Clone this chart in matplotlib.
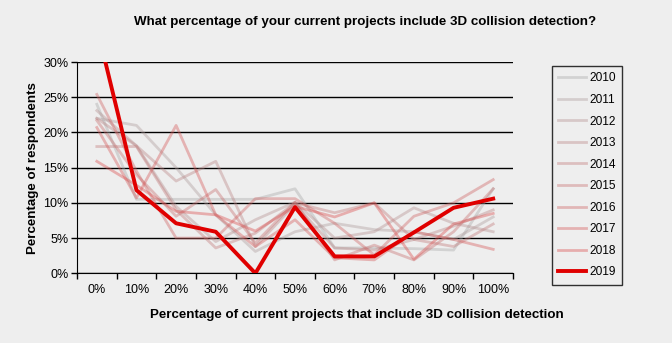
import matplotlib
matplotlib.use('Agg')
import matplotlib.pyplot as plt
from matplotlib.ticker import FixedLocator, NullFormatter

plt.rcParams['font.family'] = ['Liberation Sans', 'DejaVu Sans']

categories = ['0%', '10%', '20%', '30%', '40%', '50%', '60%', '70%', '80%', '90%', '100%']
years = ['2010', '2011', '2012', '2013', '2014', '2015', '2016', '2017', '2018', '2019']

# percent of respondents
values = {
    '2010': [24.0, 10.5, 10.5, 10.5, 10.5, 12.0, 3.6, 3.6, 3.5, 3.3, 12.0],
    '2011': [22.0, 21.0, 15.0, 8.3, 3.1, 5.9, 7.1, 6.2, 5.9, 4.8, 8.0],
    '2012': [23.1, 18.1, 9.5, 4.5, 7.6, 10.1, 5.0, 5.9, 9.3, 7.1, 5.9],
    '2013': [22.0, 18.1, 13.1, 15.9, 3.8, 9.8, 3.6, 3.3, 4.8, 6.7, 9.0],
    '2014': [18.0, 18.0, 9.0, 3.6, 5.7, 10.0, 8.6, 10.0, 4.8, 3.8, 7.0],
    '2015': [21.7, 14.0, 8.1, 11.9, 4.3, 10.1, 1.9, 4.0, 1.9, 5.9, 12.0],
    '2016': [25.4, 14.5, 5.0, 5.0, 10.6, 10.6, 7.1, 2.6, 8.1, 10.0, 13.3],
    '2017': [20.7, 10.7, 21.0, 8.3, 3.8, 7.6, 2.2, 1.9, 5.9, 4.8, 3.4],
    '2018': [15.9, 12.5, 8.8, 8.3, 6.0, 9.5, 8.0, 10.0, 2.0, 7.0, 8.5],
    '2019': [35.0, 11.8, 7.1, 5.9, 0.0, 9.4, 2.4, 2.4, 5.8, 9.3, 10.6],
}

bg = '#eeeeee'
fig = plt.figure(figsize=(6.72, 3.43), dpi=100, facecolor=bg)
ax = fig.add_axes([0.1146, 0.2032, 0.6488, 0.616], facecolor=bg)

x = list(range(len(categories)))
n_old = len(years) - 1
for i, yr in enumerate(years[:-1]):
    t = i / (n_old - 1)
    r = 0.66 + t * (0.86 - 0.66)
    g = 0.66 - t * (0.66 - 0.30)
    b = 0.66 - t * (0.66 - 0.30)
    ax.plot(x, values[yr], color=(r, g, b, 0.4), lw=2.0, label=yr, zorder=2)
ax.plot(x, values['2019'], color='#e00000', lw=2.8, label='2019', zorder=3)

ax.set_xlim(-0.5, len(categories) - 0.5)
ax.set_ylim(0, 30)
ax.set_yticks(range(0, 31, 5))
ax.set_yticklabels([f'{v}%' for v in range(0, 31, 5)], fontsize=9)
ax.set_xticks(x)
ax.set_xticklabels(categories, fontsize=9)
ax.tick_params(axis='x', which='major', length=0, pad=8)
ax.xaxis.set_minor_locator(FixedLocator([v - 0.5 for v in range(len(categories) + 1)]))
ax.xaxis.set_minor_formatter(NullFormatter())
ax.tick_params(axis='x', which='minor', length=4, color='black', width=1)
ax.tick_params(axis='y', length=4, color='black', width=1, pad=2)
ax.yaxis.grid(True, color='black', lw=1)
ax.set_axisbelow(True)
for s in ['top', 'right']:
    ax.spines[s].set_visible(False)
ax.spines['left'].set_color('black')
ax.spines['bottom'].set_color('black')

fig.text(0.543, 0.935, 'What percentage of your current projects include 3D collision detection?',
         ha='center', va='center', fontsize=9.6, fontweight='bold')
fig.text(0.531, 0.083, 'Percentage of current projects that include 3D collision detection',
         ha='center', va='center', fontsize=9.6, fontweight='bold')
ax.set_ylabel('Percentage of respondents', fontsize=9.6, fontweight='bold', labelpad=3)

leg = ax.legend(loc='upper left', bbox_to_anchor=(0.821, 0.808), bbox_transform=fig.transFigure,
                fontsize=8.6, frameon=True, fancybox=False, facecolor=bg, edgecolor='black',
                handlelength=2.3, handletextpad=0.3, labelspacing=0.8, borderpad=0.55,
                borderaxespad=0)
leg.get_frame().set_linewidth(1.0)

fig.savefig('out.png', dpi=100, facecolor=bg)
